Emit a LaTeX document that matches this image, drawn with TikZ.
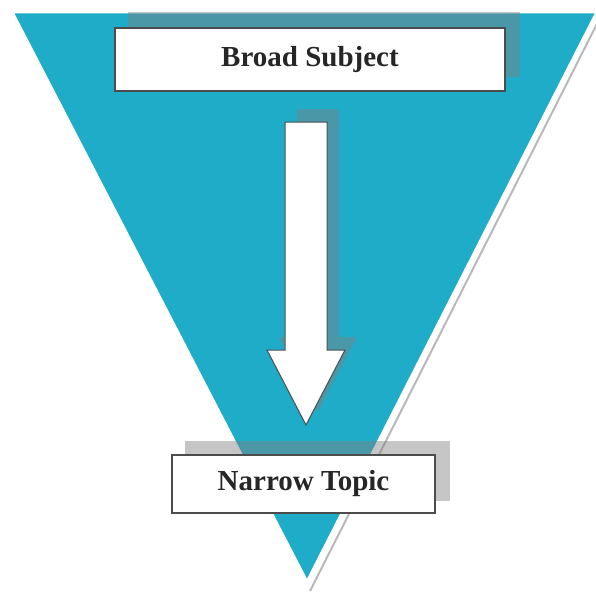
\documentclass[tikz,border=0pt]{standalone}
\usepackage{fontspec}
\setmainfont{Liberation Serif}
\usepackage{tikz}
\usetikzlibrary{calc}

\definecolor{funnelblue}{RGB}{30,172,200}

\begin{document}
\begin{tikzpicture}[
    x=1pt, y=-1pt,
    funnel/.style={fill=funnelblue, draw=white, line width=3pt, line join=miter},
    edgeshade/.style={draw=gray!55, line width=2pt},
    shadowbox/.style={fill=gray, opacity=0.45},
    label/.style={draw=black!70, line width=1.2pt, fill=white, inner sep=0pt,
        text=black!85, font=\fontsize{29}{34}\selectfont\bfseries},
    blockarrow/.style={fill=white, draw=black!70, line width=1pt, line join=miter}
]

% ---------- Parameters ----------
\def\tipx{307}
\def\tipy{582}
\def\shaftl{285}
\def\shaftr{327}
\def\shafttop{122}
\def\headtop{350}
\def\headl{267}
\def\headr{345}
\def\headtip{425}

\clip (0,0) rectangle (596,591);

% ---------- Funnel ----------
\draw[edgeshade] (605,8) -- (310,591);
\draw[funnel] (12,12) -- (597,12) -- (\tipx,\tipy) -- cycle;

% ---------- Labels ----------
\node[label, minimum width=390, minimum height=63] (broad) at (310,59.5) {Broad Subject};
\node[label, minimum width=263, minimum height=58] (narrow) at (303.5,484) {Narrow Topic};

% ---------- Shadows ----------
\fill[shadowbox] ([shift={(14,-15)}]broad.south west) rectangle ([shift={(14,-15)}]broad.north east);
\fill[shadowbox] ([shift={(14,-13)}]narrow.south west) rectangle ([shift={(14,-13)}]narrow.north east);

\begin{scope}[shift={(12,-13)}]
\fill[shadowbox] (\shaftl,\shafttop) -- (\shaftr,\shafttop) -- (\shaftr,\headtop)
    -- (\headr,\headtop) -- (306,\headtip) -- (\headl,\headtop) -- (\shaftl,\headtop) -- cycle;
\end{scope}

% redraw labels on top of shadows
\node[label, minimum width=390, minimum height=63] at (broad) {Broad Subject};
\node[label, minimum width=263, minimum height=58] at (narrow) {Narrow Topic};

% ---------- Arrow ----------
\draw[blockarrow] (\shaftl,\shafttop) -- (\shaftr,\shafttop) -- (\shaftr,\headtop)
    -- (\headr,\headtop) -- (306,\headtip) -- (\headl,\headtop) -- (\shaftl,\headtop) -- cycle;

\end{tikzpicture}
\end{document}
